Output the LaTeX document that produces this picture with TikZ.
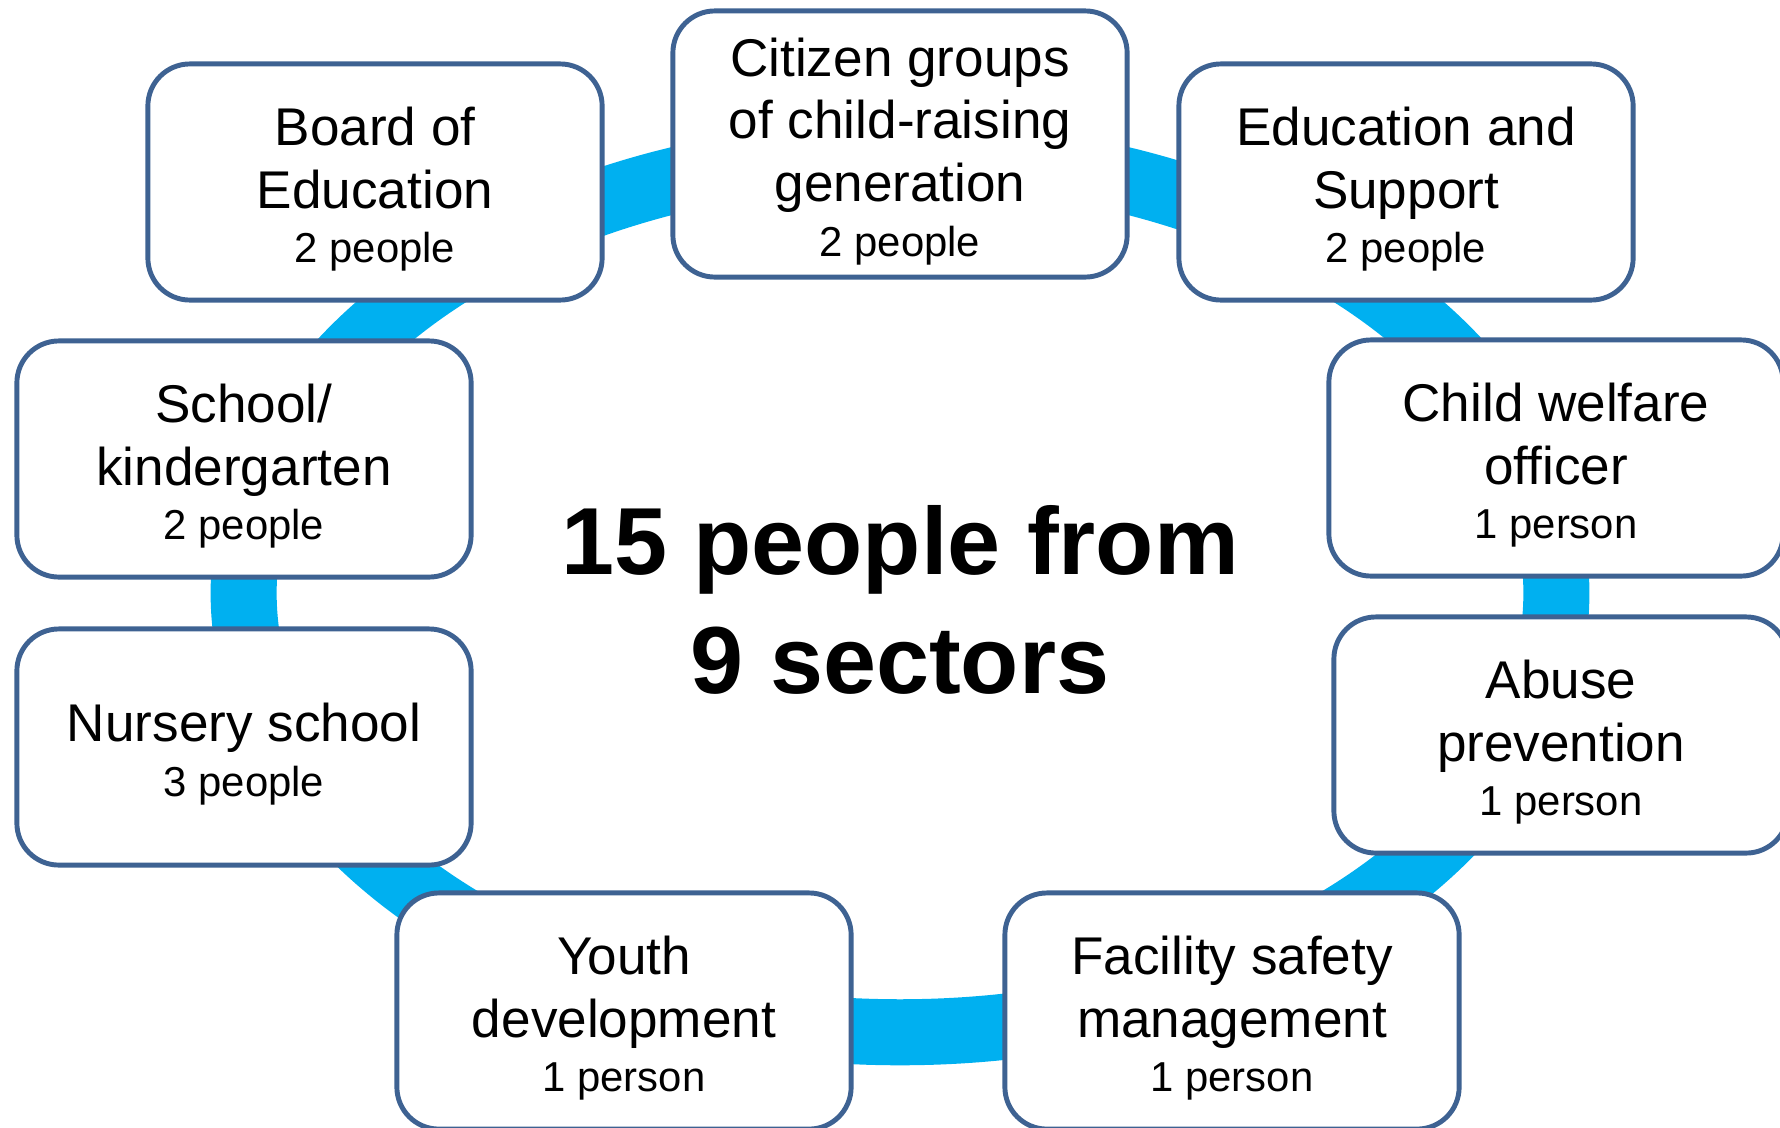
\documentclass[tikz,border=0pt]{standalone}
\usepackage{fontspec}
\setmainfont{Liberation Sans}
\definecolor{ringblue}{RGB}{0,176,240}
\definecolor{boxedge}{RGB}{62,98,146}
\newcommand{\headcount}[1]{{\fontsize{11.9}{14}\selectfont #1}}
\newcommand{\lift}{\rule{0pt}{15pt}}

\begin{document}
\begin{tikzpicture}[x=0.01cm, y=-0.01cm,
        sector/.style={rectangle, draw=boxedge, line width=1.4pt, fill=white, rounded corners=0.42cm, minimum width=4.54cm, minimum height=2.36cm, align=center, font=\fontsize{15.1}{17.9}\selectfont},
        ring/.style={draw=ringblue, line width=0.66cm},
        total/.style={align=center, font=\bfseries\fontsize{27.1}{33.6}\selectfont}
    ]
    \clip (0,0) rectangle (1780,1127);

    % Ring
    \draw[ring] (900,593) ellipse [x radius=6.56cm, y radius=4.39cm];

    % Sectors
    \node[sector] (board) at (375,182) {\lift Board of\\Education\\[-2.5pt]\headcount{2 people}};
    \node[sector, minimum height=2.66cm] (citizen) at (900,144) {\lift Citizen groups\\of child-raising\\generation\\[-2.5pt]\headcount{2 people}};
    \node[sector] (support) at (1406,182) {\lift Education and\\Support\\[-2.5pt]\headcount{2 people}};
    \node[sector] (school) at (244,459) {\lift School/\\kindergarten\\[-2.5pt]\headcount{2 people}};
    \node[sector] (welfare) at (1556,458) {\lift Child welfare\\officer\\[-2.5pt]\headcount{1 person}};
    \node[sector] (nursery) at (244,747) {\lift Nursery school\\[-2.5pt]\headcount{3 people}};
    \node[sector] (abuse) at (1561,735) {\lift Abuse\\prevention\\[-2.5pt]\headcount{1 person}};
    \node[sector] (youth) at (624,1011) {\lift Youth\\development\\[-2.5pt]\headcount{1 person}};
    \node[sector] (facility) at (1232,1011) {\lift Facility safety\\management\\[-2.5pt]\headcount{1 person}};

    % Total
    \node[total] (sum) at (900,600) {15 people from\\9 sectors};

    \end{tikzpicture}
\end{document}
